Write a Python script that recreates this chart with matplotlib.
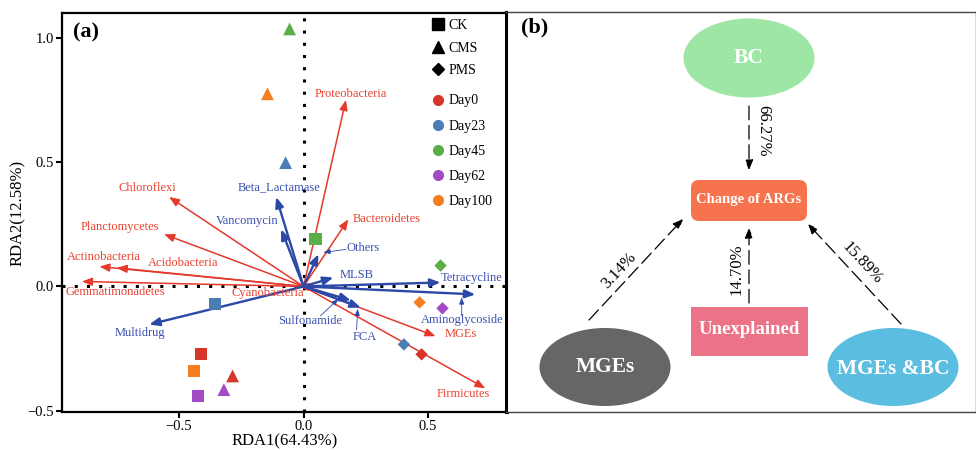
import matplotlib
matplotlib.use('Agg')
import matplotlib.pyplot as plt
from matplotlib.lines import Line2D
from matplotlib.patches import Ellipse, FancyBboxPatch, Rectangle

plt.rcParams['font.family'] = ['Liberation Serif', 'DejaVu Serif']

# ---- RDA site scores (one list per treatment, ordered by day) ----
treatments = ['CK', 'CMS', 'PMS']
days = ['Day0', 'Day23', 'Day45', 'Day62', 'Day100']
ck_rda1 = [-0.41, -0.357, 0.048, -0.425, -0.44]
ck_rda2 = [-0.27, -0.072, 0.19, -0.44, -0.34]
cms_rda1 = [-0.285, -0.072, -0.056, -0.32, -0.145]
cms_rda2 = [-0.36, 0.498, 1.036, -0.415, 0.775]
pms_rda1 = [0.474, 0.403, 0.55, 0.558, 0.466]
pms_rda2 = [-0.273, -0.233, 0.084, -0.088, -0.064]

# ---- bacterial phyla / MGEs vectors (red) ----
bact_names = ['Proteobacteria', 'Bacteroidetes', 'Chloroflexi', 'Planctomycetes',
              'Actinobacteria', 'Acidobacteria', 'Gemmatimonadetes', 'Cyanobacteria',
              'MGEs', 'Firmicutes']
bact_rda1 = [0.17, 0.18, -0.54, -0.56, -0.82, -0.75, -0.89, -0.02, 0.53, 0.73]
bact_rda2 = [0.75, 0.27, 0.36, 0.21, 0.08, 0.075, 0.02, 0.002, -0.20, -0.41]

# ---- ARG class vectors (blue) ----
arg_names = ['Beta_Lactamase', 'Vancomycin', 'Others', 'MLSB', 'Tetracycline',
             'Aminoglycoside', 'Sulfonamide', 'FCA', 'Multidrug']
arg_rda1 = [-0.11, -0.09, 0.06, 0.12, 0.55, 0.69, 0.19, 0.23, -0.62]
arg_rda2 = [0.36, 0.23, 0.13, 0.036, 0.016, -0.032, -0.056, -0.085, -0.153]

# ---- variation partitioning (panel b) ----
vpa_sources = ['BC', 'Unexplained', 'MGEs', 'MGEs &BC']
vpa_percent = [66.27, 14.70, 3.14, 15.89]
vpa_target = 'Change of ARGs'

# layout / style bits
day_colors = ['#d7342a', '#4a7db5', '#5aae45', '#a24bc4', '#f57e21']
shape_markers = {'CK': 's', 'CMS': '^', 'PMS': 'D'}
shape_sizes = {'CK': 75, 'CMS': 85, 'PMS': 40}
red_arrow = '#e5392b'
blue_arrow = '#2c48a8'
red_text = '#e8412f'
blue_text = '#3a4fb0'

# label placement for the vectors (data units)
bact_label_pos = {
    'Proteobacteria': (0.19, 0.775), 'Bacteroidetes': (0.333, 0.273),
    'Chloroflexi': (-0.627, 0.398), 'Planctomycetes': (-0.737, 0.241),
    'Actinobacteria': (-0.803, 0.12), 'Acidobacteria': (-0.484, 0.096),
    'Gemmatimonadetes': (-0.755, -0.024), 'Cyanobacteria': (-0.145, -0.028),
    'MGEs': (0.63, -0.193), 'Firmicutes': (0.643, -0.434),
}
arg_label_pos = {
    'Beta_Lactamase': (-0.10, 0.40), 'Vancomycin': (-0.225, 0.265),
    'Others': (0.241, 0.153), 'MLSB': (0.215, 0.048),
    'Tetracycline': (0.673, 0.036), 'Aminoglycoside': (0.639, -0.133),
    'Sulfonamide': (0.028, -0.137), 'FCA': (0.247, -0.205),
    'Multidrug': (-0.657, -0.189),
}
# small leader lines from label to arrow tip
leaders = [((0.17, 0.149), (0.08, 0.137)),
           ((0.635, -0.118), (0.635, -0.044)),
           ((0.213, -0.175), (0.217, -0.09)),
           ((0.068, -0.118), (0.14, -0.05))]


def draw_vectors(ax, names, xs, ys, color, tcolor, lw, label_pos):
    for name, x, y in zip(names, xs, ys):
        ax.annotate('', xy=(x, y), xytext=(0, 0),
                    arrowprops=dict(arrowstyle='-|>,head_length=0.6,head_width=0.24',
                                    color=color, lw=lw, shrinkA=0, shrinkB=0),
                    zorder=3)
        lx, ly = label_pos[name]
        ax.text(lx, ly, name, color=tcolor, fontsize=9, ha='center', va='center', zorder=4)


fig = plt.figure(figsize=(9.76, 4.5), dpi=100)

# ================= panel (a): RDA biplot =================
ax1 = fig.add_axes([62 / 976, 38 / 450, 445 / 976, 399 / 450])
ax1.set_xlim(-0.97, 0.817)
ax1.set_ylim(-0.505, 1.10)
ax1.axhline(0, color='black', ls=(0, (1, 3)), lw=2.2, zorder=1)
ax1.axvline(0, color='black', ls=(0, (1, 3)), lw=2.2, zorder=1)

draw_vectors(ax1, bact_names, bact_rda1, bact_rda2, red_arrow, red_text, 1.1, bact_label_pos)
draw_vectors(ax1, arg_names, arg_rda1, arg_rda2, blue_arrow, blue_text, 1.7, arg_label_pos)
for start, end in leaders:
    ax1.annotate('', xy=end, xytext=start,
                 arrowprops=dict(arrowstyle='-|>,head_length=0.4,head_width=0.15',
                                 color=blue_arrow, lw=0.6, shrinkA=0, shrinkB=0), zorder=3)

site_x = {'CK': ck_rda1, 'CMS': cms_rda1, 'PMS': pms_rda1}
site_y = {'CK': ck_rda2, 'CMS': cms_rda2, 'PMS': pms_rda2}
for t in treatments:
    ax1.scatter(site_x[t], site_y[t], c=day_colors, marker=shape_markers[t],
                s=shape_sizes[t], linewidths=0, zorder=5)

ax1.set_xticks([-0.5, 0.0, 0.5])
ax1.set_yticks([-0.5, 0.0, 0.5, 1.0])
ax1.tick_params(labelsize=10.5, length=4, width=1.5, colors='black', pad=2)
for side in ['left', 'bottom', 'top']:
    ax1.spines[side].set_linewidth(1.6)
ax1.spines['right'].set_linewidth(2.2)
ax1.set_xlabel('RDA1(64.43%)', fontsize=12, labelpad=0)
ax1.set_ylabel('RDA2(12.58%)', fontsize=12, labelpad=1)
ax1.text(0.025, 0.975, '(a)', transform=ax1.transAxes, fontsize=16,
         fontweight='bold', ha='left', va='top')

# legends: shapes then colours
shape_handles = [Line2D([], [], marker=shape_markers[t], color='black', ls='',
                        markersize=9 if t != 'PMS' else 6.5) for t in treatments]
leg1 = ax1.legend(shape_handles, treatments, loc='upper left', bbox_to_anchor=(0.81, 0.998),
                  frameon=False, fontsize=10, handletextpad=0.05, labelspacing=0.68,
                  borderaxespad=0, handlelength=1.4)
ax1.add_artist(leg1)
color_handles = [Line2D([], [], marker='o', color=c, ls='', markersize=7) for c in day_colors]
ax1.legend(color_handles, days, loc='upper left', bbox_to_anchor=(0.81, 0.81),
           frameon=False, fontsize=10, handletextpad=0.1, labelspacing=0.88,
           borderaxespad=0, handlelength=1.4)

# ================= panel (b): variation partitioning =================
ax2 = fig.add_axes([506 / 976, 38 / 450, 470 / 976, 400 / 450])
ax2.set_xlim(506, 976)
ax2.set_ylim(412, 12)
ax2.set_xticks([])
ax2.set_yticks([])
ax2.spines['left'].set_linewidth(2.2)
for side in ['top', 'bottom', 'right']:
    ax2.spines[side].set_linewidth(1.0)
    ax2.spines[side].set_color('#444444')
ax2.text(535, 27, '(b)', fontsize=16, fontweight='bold', ha='center', va='center')

# nodes
ax2.add_patch(Ellipse((749, 58), 131, 79, color='#9de6a3', lw=0))
ax2.text(749, 58, 'BC', color='white', fontsize=15.5, fontweight='bold', ha='center', va='center')
ax2.add_patch(Ellipse((605, 367), 131, 78, color='#666666', lw=0))
ax2.text(605, 367, 'MGEs', color='white', fontsize=15.5, fontweight='bold', ha='center', va='center')
ax2.add_patch(Ellipse((893, 367), 131, 78, color='#5bbde0', lw=0))
ax2.text(893, 369, 'MGEs &BC', color='white', fontsize=15.5, fontweight='bold', ha='center', va='center')
ax2.add_patch(FancyBboxPatch((691, 180), 116, 41, boxstyle='round,pad=0,rounding_size=8',
                             color='#f7734e', lw=0))
ax2.text(749, 200, vpa_target, color='white', fontsize=10.5, fontweight='bold', ha='center', va='center')
ax2.add_patch(Rectangle((691, 307), 117, 49, color='#ec7387', lw=0))
ax2.text(749, 330, 'Unexplained', color='white', fontsize=13.5, fontweight='bold', ha='center', va='center')

# dashed arrows with percentages
arrow_paths = {'BC': ((749, 106), (749, 170)),
               'Unexplained': ((749, 303), (749, 228)),
               'MGEs': ((589, 320), (683, 219)),
               'MGEs &BC': ((901, 324), (808, 224))}
label_spots = {'BC': (763, 131, -90), 'Unexplained': (736, 269, 90),
               'MGEs': (619, 270, 47), 'MGEs &BC': (862, 263, -47)}
for src, pct in zip(vpa_sources, vpa_percent):
    start, end = arrow_paths[src]
    ax2.annotate('', xy=end, xytext=start,
                 arrowprops=dict(arrowstyle='-|>,head_length=0.6,head_width=0.25',
                                 color='black', lw=0.9, ls=(0, (11, 4.5)),
                                 shrinkA=0, shrinkB=0))
    lx, ly, rot = label_spots[src]
    ax2.text(lx, ly, f'{pct:.2f}%', fontsize=12, rotation=rot, rotation_mode='anchor',
             ha='center', va='center')

fig.savefig('out.png', dpi=100)
